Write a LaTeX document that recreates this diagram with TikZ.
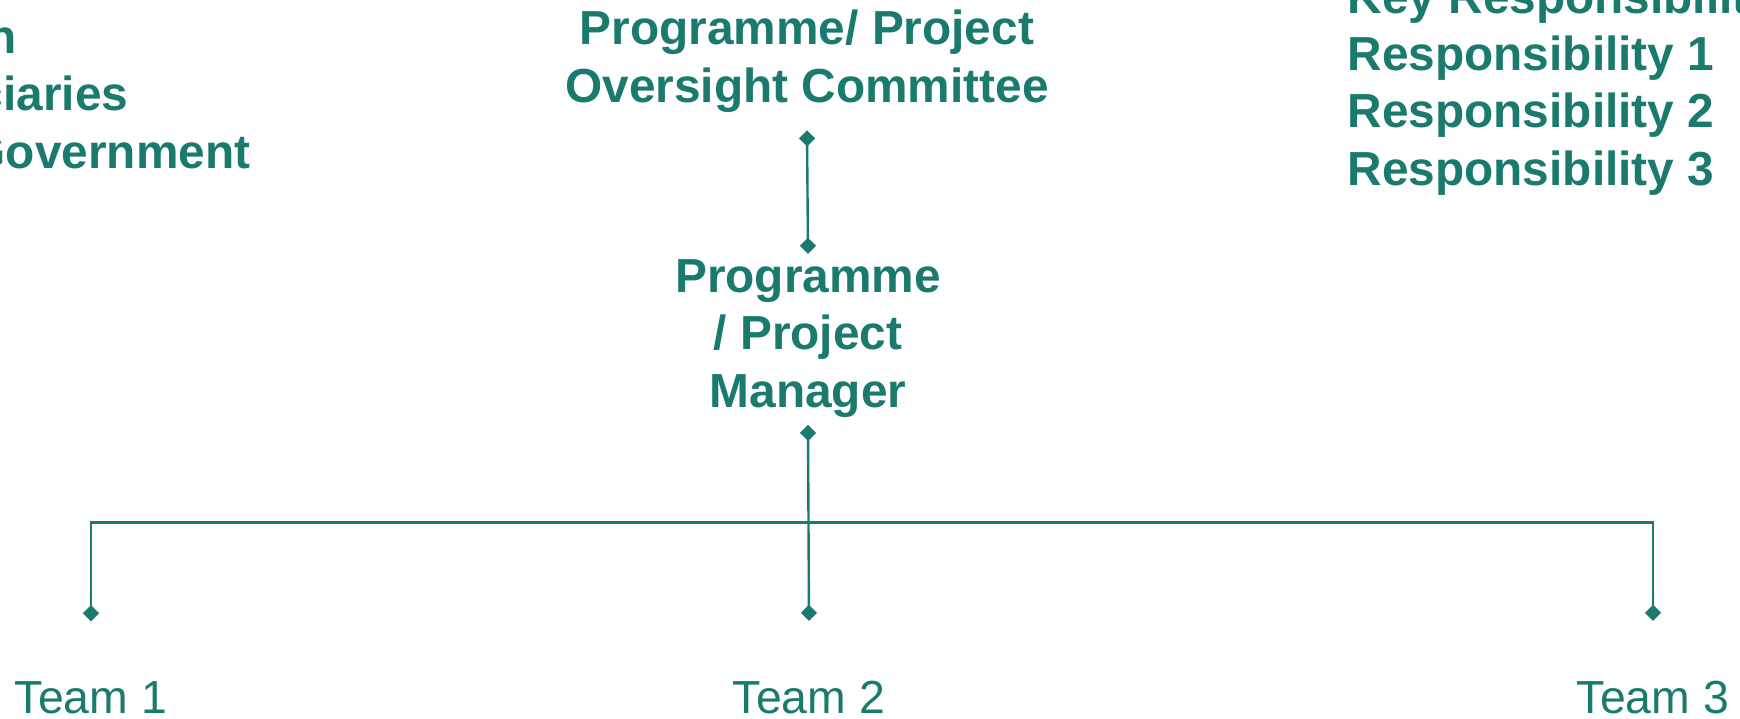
\documentclass[tikz,border=0pt]{standalone}
\usepackage{fontspec}
\setmainfont{Liberation Sans}
\usepackage{tikz}
\usetikzlibrary{arrows.meta, positioning}
\definecolor{orgteal}{HTML}{1B7A6E}

\tikzset{
    rolebox/.style={font=\bfseries\fontsize{13.6}{16.3}\selectfont, text=orgteal, inner sep=0pt},
    teambox/.style={font=\fontsize{13.2}{15.8}\selectfont, text=orgteal, inner sep=0pt, anchor=base},
    link/.style={orgteal, line width=0.68pt,
        {Diamond[length=4.6pt, width=4.6pt]}-{Diamond[length=4.6pt, width=4.6pt]}},
}

\begin{document}
\begin{tikzpicture}
    \useasboundingbox (0, 0) rectangle (17.40, -7.18);
    \clip (0, 0) rectangle (17.40, -7.18);

    % side lists (base = last line)
    \node[rolebox, anchor=base west, align=left] (stake) at (-1.70, -1.68)
        {Division\\Beneficiaries\\Local Government};
    \node[rolebox, anchor=base west, align=left] (duties) at (13.47, -1.85)
        {Key Responsibilities\\Responsibility 1\\Responsibility 2\\Responsibility 3};

    % hierarchy
    \node[rolebox, anchor=base, align=center] (committee) at (8.07, -1.02)
        {Programme/ Project\\Oversight Committee};
    \node[rolebox, anchor=base, align=center] (manager) at (8.08, -4.07)
        {Programme\\/ Project\\Manager};

    \node[teambox] (team1) at (0.91, -7.13) {Team 1};
    \node[teambox] (team2) at (8.09, -7.13) {Team 2};
    \node[teambox] (team3) at (16.53, -7.13) {Team 3};

    % connectors
    \draw[link] ([yshift=-1.75mm]committee.south) -- ([yshift=0.5mm]manager.north);
    \draw[link] ([yshift=-0.7mm]manager.south) -- ([yshift=5.9mm]team2.north);
    \draw[link] ([yshift=5.9mm]team1.north) -- ++(0, 0.99) -| ([yshift=5.9mm]team3.north);
\end{tikzpicture}
\end{document}
